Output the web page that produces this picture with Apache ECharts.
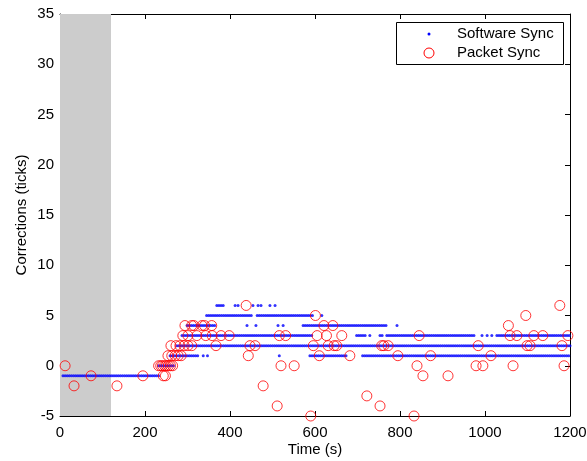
<!DOCTYPE html>
<html>
<head>
<meta charset="utf-8">
<title>Corrections</title>
<script src="https://cdn.jsdelivr.net/npm/echarts@6/dist/echarts.min.js"></script>
<style>
  html, body { margin: 0; padding: 0; background: #fff; }
  #chartDiv { width: 587px; height: 461px; }
</style>
</head>
<body>
<div id="chartDiv"></div>
<script>
var FONT = "'Liberation Sans', Arial, sans-serif";

// axes
var xMin = 0, xMax = 1200, xStep = 200;
var yMin = -5, yMax = 35, yStep = 5;

// shaded start-up period (s)
var shadeFrom = 0, shadeTo = 120;

// Software Sync: runs of dots, [level, from, to] (s)
var softwareRuns = [
    [-1, 7, 235],
    [0, 232, 268],
    [1, 259, 325], [1, 337, 337], [1, 347, 347], [1, 516, 516], [1, 588, 677], [1, 712, 1200],
    [2, 275, 1200],
    [3, 287, 593], [3, 698, 718], [3, 729, 729], [3, 753, 760], [3, 769, 976],
    [3, 993, 993], [3, 1005, 1005], [3, 1016, 1016], [3, 1028, 1200],
    [4, 299, 365], [4, 440, 440], [4, 461, 461], [4, 513, 513], [4, 525, 525], [4, 572, 770], [4, 793, 793],
    [5, 345, 452], [5, 464, 595], [5, 616, 616],
    [6, 369, 384], [6, 412, 412], [6, 419, 419], [6, 454, 454], [6, 466, 466],
    [6, 473, 473], [6, 494, 494], [6, 506, 506]
];
// spacing of the software dots along a run (s)
var softwareSpacing = 5;

// Packet Sync: [time (s), correction]
var packetTimes = [
    12, 33, 73, 134, 195, 243, 248,
    232, 237, 241, 246, 250, 255, 260, 265,
    254, 263, 271, 278, 285,
    261, 273, 282, 292, 301, 310, 367,
    289, 301, 322, 343, 358, 379, 398,
    294, 310, 315, 334, 340, 357,
    438, 443, 447, 459, 478, 511, 516, 531, 520, 551,
    590, 596, 601, 605, 610, 621, 627, 631, 642, 645, 651, 663, 682,
    722, 753, 757, 762, 772, 795,
    833, 840, 845, 854, 872, 913,
    979, 984, 995, 1014, 1055, 1059, 1066, 1075, 1096, 1099, 1106, 1115, 1136, 1176, 1181, 1186, 1195
];
var packetValues = [
    0, -2, -1, -2, -1, -1, -1,
    0, 0, 0, 0, 0, 0, 0, 0,
    1, 1, 1, 1, 1,
    2, 2, 2, 2, 2, 2, 2,
    3, 3, 3, 3, 3, 3, 3,
    4, 4, 4, 4, 4, 4,
    6, 1, 2, 2, -2, -4, 3, 3, 0, 0,
    -5, 2, 5, 3, 1, 4, 3, 2, 4, 2, 2, 3, 1,
    -3, -4, 2, 2, 2, 1,
    -5, 0, 3, -1, 1, -1,
    0, 2, 0, 1, 4, 3, 0, 3, 5, 2, 2, 3, 3, 6, 2, 0, 3
];

var seriesNames = ['Software Sync', 'Packet Sync'];

function buildSoftwareData() {
    var out = [];
    softwareRuns.forEach(function (r) {
        for (var t = r[1]; t <= r[2]; t += softwareSpacing) {
            out.push([t, r[0]]);
        }
    });
    return out;
}

function buildPacketData() {
    return packetTimes.map(function (t, i) { return [t, packetValues[i]]; });
}

var chartDiv = echarts.init(document.getElementById('chartDiv'));

var axisCommon = {
    type: 'value',
    axisLine: { show: true, onZero: false, lineStyle: { color: '#000', width: 1 } },
    axisTick: { show: true, inside: true, length: 5, lineStyle: { color: '#000' } },
    splitLine: { show: false },
    axisLabel: { color: '#000', fontSize: 15, fontFamily: FONT, formatter: function (v) { return String(v); } }
};

var option = {
    animation: false,
    backgroundColor: '#fff',
    grid: { left: 60, right: 17, top: 14, bottom: 45, outerBoundsMode: 'none', containLabel: false },
    xAxis: [
        echarts.util.merge({
            min: xMin, max: xMax, interval: xStep, position: 'bottom',
            name: 'Time (s)', nameLocation: 'middle', nameGap: 26, nameMoveOverlap: false,
            nameTextStyle: { color: '#000', fontSize: 15, fontFamily: FONT },
            axisLabel: { margin: 9 }
        }, axisCommon, false),
        echarts.util.merge({
            min: xMin, max: xMax, interval: xStep, position: 'top',
            axisLabel: { show: false }
        }, axisCommon, false)
    ],
    yAxis: [
        echarts.util.merge({
            min: yMin, max: yMax, interval: yStep, position: 'left',
            name: 'Corrections (ticks)', nameLocation: 'middle', nameGap: 31, nameRotate: 90, nameMoveOverlap: false,
            nameTextStyle: { color: '#000', fontSize: 15, fontFamily: FONT },
            axisLabel: { margin: 6 }
        }, axisCommon, false),
        echarts.util.merge({
            min: yMin, max: yMax, interval: yStep, position: 'right',
            axisLabel: { show: false }
        }, axisCommon, false)
    ],
    series: [
        {
            // shaded start-up band
            type: 'scatter',
            name: 'shade',
            data: [],
            z: 1,
            markArea: {
                silent: true,
                itemStyle: { color: '#cccccc' },
                data: [[{ xAxis: shadeFrom }, { xAxis: shadeTo }]]
            }
        },
        {
            type: 'scatter',
            name: seriesNames[0],
            data: buildSoftwareData(),
            symbol: 'circle',
            symbolSize: 3,
            itemStyle: { color: '#0000ff' },
            z: 3
        },
        {
            type: 'scatter',
            name: seriesNames[1],
            data: buildPacketData(),
            symbol: 'circle',
            symbolSize: 10,
            itemStyle: { color: 'rgba(0,0,0,0)', borderColor: '#ff0000', borderWidth: 1 },
            z: 4
        }
    ],
    graphic: [
        {
            type: 'rect', left: 396, top: 22, z: 10,
            shape: { width: 167, height: 42 },
            style: { fill: '#fff', stroke: '#000', lineWidth: 1 }
        },
        {
            type: 'circle', z: 11,
            shape: { cx: 429, cy: 34, r: 1.5 },
            style: { fill: '#0000ff' }
        },
        {
            type: 'circle', z: 11,
            shape: { cx: 429, cy: 53, r: 5 },
            style: { fill: 'none', stroke: '#ff0000', lineWidth: 1 }
        },
        {
            type: 'text', left: 457, top: 26, z: 11,
            style: { text: seriesNames[0], fill: '#000', fontSize: 15, fontFamily: FONT }
        },
        {
            type: 'text', left: 457, top: 45, z: 11,
            style: { text: seriesNames[1], fill: '#000', fontSize: 15, fontFamily: FONT }
        }
    ]
};

chartDiv.setOption(option);
</script>
</body>
</html>
